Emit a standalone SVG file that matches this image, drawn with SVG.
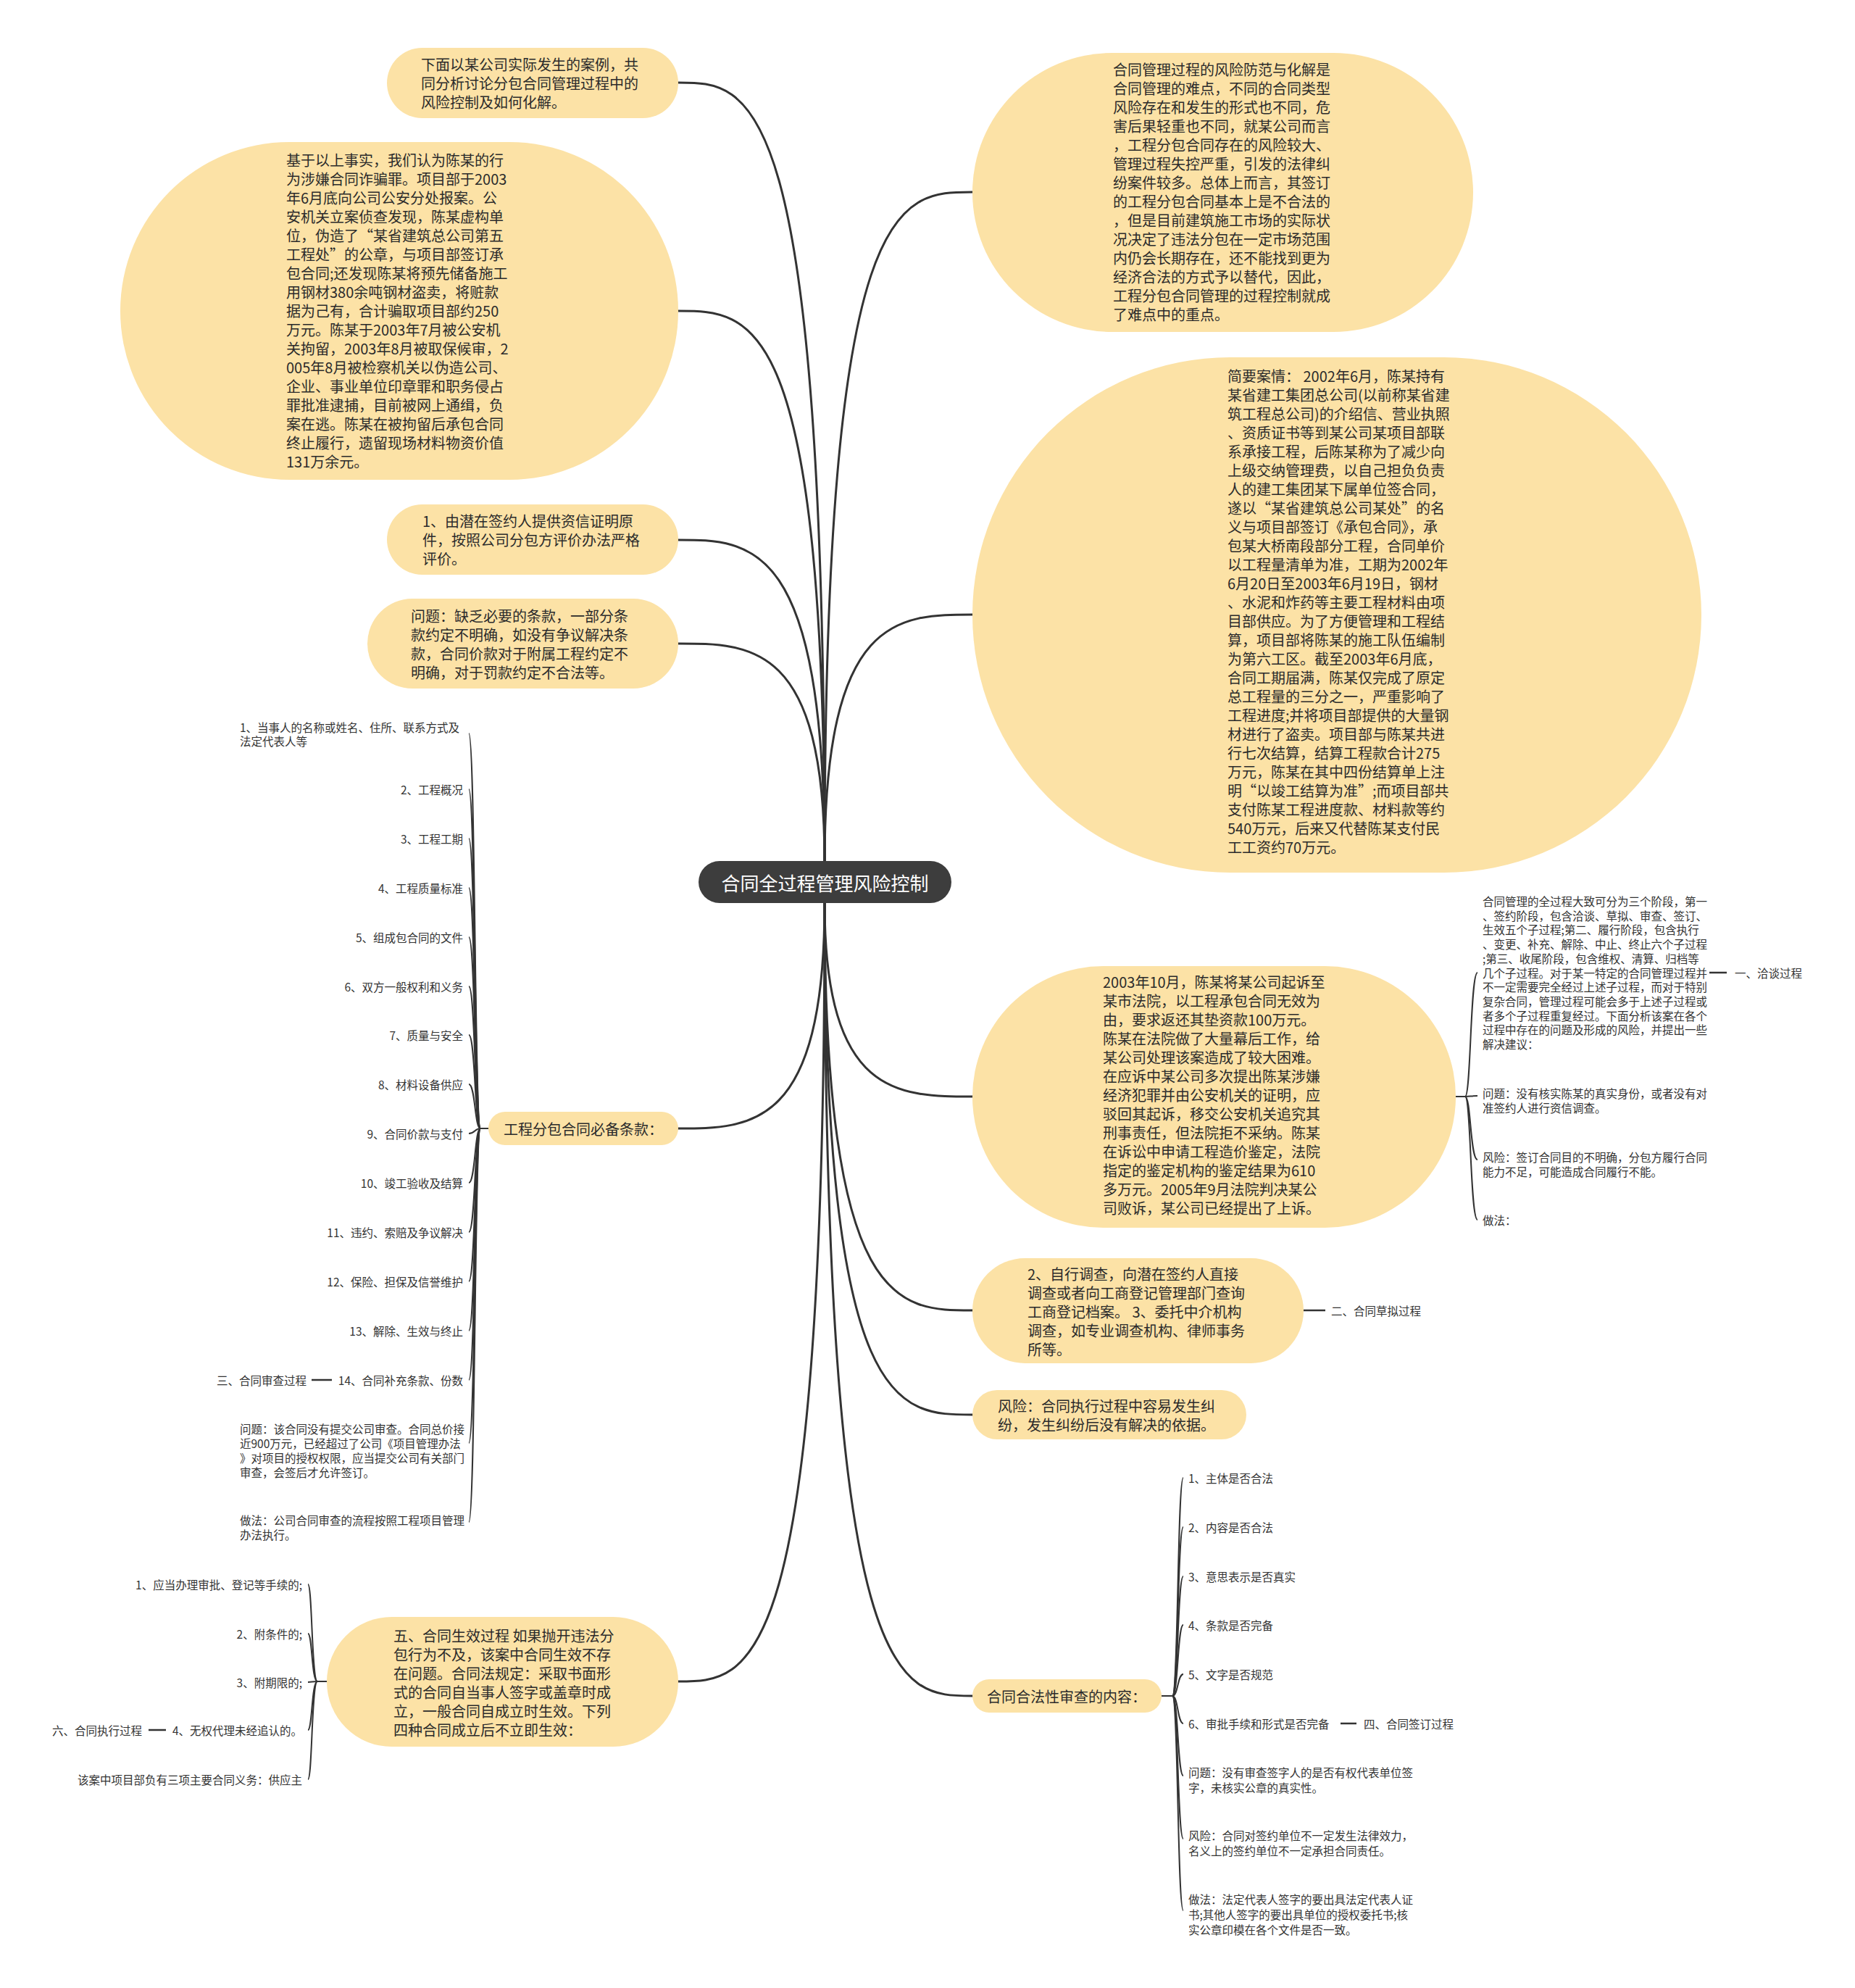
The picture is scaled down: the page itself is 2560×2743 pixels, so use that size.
<svg xmlns="http://www.w3.org/2000/svg" width="2560" height="2743" viewBox="0 0 2560 2743">
<style>
.n{fill:#FCE2A6}
.t{font-family:"Noto Sans CJK SC","Noto Sans",sans-serif;font-size:20px;fill:#2b2b2b;dominant-baseline:central}
.s{font-size:15.5px;fill:#333}
.e{text-anchor:end}
.c{fill:none;stroke:#333;stroke-width:3;stroke-linecap:round}
.b{fill:none;stroke:#333;stroke-width:2}
.d{fill:none;stroke:#333;stroke-width:2.5}
</style>
<rect width="2560" height="2743" fill="#ffffff"/>
<g id="connectors">
<path class="c" d="M1138,1190 C1138,114 1037,114 936,114"/>
<path class="c" d="M1138,1190 C1138,429 1037,429 936,429"/>
<path class="c" d="M1138,1190 C1138,745 1037,745 936,745"/>
<path class="c" d="M1138,1190 C1138,888 1037,888 936,888"/>
<path class="c" d="M1138,1190 C1138,265 1240,265 1342,265"/>
<path class="c" d="M1138,1190 C1138,848 1240,848 1342,848"/>
<path class="c" d="M1138,1246 C1138,1557 1037,1557 936,1557"/>
<path class="c" d="M1138,1246 C1138,2320 1037,2320 936,2320"/>
<path class="c" d="M1138,1246 C1138,1513 1240,1513 1342,1513"/>
<path class="c" d="M1138,1246 C1138,1808 1240,1808 1342,1808"/>
<path class="c" d="M1138,1246 C1138,1952 1240,1952 1342,1952"/>
<path class="c" d="M1138,1246 C1138,2340 1240,2340 1342,2340"/>
<path class="b" d="M674,1557 H663 C655,1557 656,1012 647,1012"/>
<path class="b" d="M674,1557 H663 C655,1557 656,1089 647,1089"/>
<path class="b" d="M674,1557 H663 C655,1557 656,1157 647,1157"/>
<path class="b" d="M674,1557 H663 C655,1557 656,1225 647,1225"/>
<path class="b" d="M674,1557 H663 C655,1557 656,1293 647,1293"/>
<path class="b" d="M674,1557 H663 C655,1557 656,1361 647,1361"/>
<path class="b" d="M674,1557 H663 C655,1557 656,1428 647,1428"/>
<path class="b" d="M674,1557 H663 C655,1557 656,1496 647,1496"/>
<path class="b" d="M674,1557 H663 C655,1557 656,1564 647,1564"/>
<path class="b" d="M674,1557 H663 C655,1557 656,1632 647,1632"/>
<path class="b" d="M674,1557 H663 C655,1557 656,1700 647,1700"/>
<path class="b" d="M674,1557 H663 C655,1557 656,1768 647,1768"/>
<path class="b" d="M674,1557 H663 C655,1557 656,1836 647,1836"/>
<path class="b" d="M674,1557 H663 C655,1557 656,1904 647,1904"/>
<path class="b" d="M674,1557 H663 C655,1557 656,1991 647,1991"/>
<path class="b" d="M674,1557 H663 C655,1557 656,2100 647,2100"/>
<path class="d" d="M430,1904 H458"/>
<path class="b" d="M2009,1513 H2022 C2030,1513 2029,1342 2039,1342"/>
<path class="b" d="M2009,1513 H2022 C2030,1513 2029,1512 2039,1512"/>
<path class="b" d="M2009,1513 H2022 C2030,1513 2029,1600 2039,1600"/>
<path class="b" d="M2009,1513 H2022 C2030,1513 2029,1683 2039,1683"/>
<path class="d" d="M2359,1342 H2383"/>
<path class="d" d="M1799,1808 H1829"/>
<path class="b" d="M1603,2340 H1618 C1626,2340 1625,2039 1633,2039"/>
<path class="b" d="M1603,2340 H1618 C1626,2340 1625,2107 1633,2107"/>
<path class="b" d="M1603,2340 H1618 C1626,2340 1625,2175 1633,2175"/>
<path class="b" d="M1603,2340 H1618 C1626,2340 1625,2242 1633,2242"/>
<path class="b" d="M1603,2340 H1618 C1626,2340 1625,2310 1633,2310"/>
<path class="b" d="M1603,2340 H1618 C1626,2340 1625,2378 1633,2378"/>
<path class="b" d="M1603,2340 H1618 C1626,2340 1625,2450 1633,2450"/>
<path class="b" d="M1603,2340 H1618 C1626,2340 1625,2537 1633,2537"/>
<path class="b" d="M1603,2340 H1618 C1626,2340 1625,2636 1633,2636"/>
<path class="d" d="M1850,2378 H1872"/>
<path class="b" d="M451,2320 H438 C430,2320 431,2186 425,2186"/>
<path class="b" d="M451,2320 H438 C430,2320 431,2254 425,2254"/>
<path class="b" d="M451,2320 H438 C430,2320 431,2321 425,2321"/>
<path class="b" d="M451,2320 H438 C430,2320 431,2387 425,2387"/>
<path class="b" d="M451,2320 H438 C430,2320 431,2455 425,2455"/>
<path class="d" d="M205,2387 H229"/>
</g>

<g id="center">
<rect x="964" y="1188" width="349" height="58" rx="29" fill="#3d3d3d"/>
<text class="t" x="1138.5" y="1217" text-anchor="middle" style="font-size:26px;fill:#ffffff">合同全过程管理风险控制</text>
</g>

<g id="nodeA">
<rect class="n" x="534" y="66" width="402" height="97" rx="48.5"/>
<text class="t"><tspan x="581" y="88">下面以某公司实际发生的案例，共</tspan><tspan x="581" y="114">同分析讨论分包合同管理过程中的</tspan><tspan x="581" y="140">风险控制及如何化解。</tspan></text>
</g>

<g id="nodeB">
<rect class="n" x="166" y="196" width="770" height="466" rx="233"/>
<text class="t"><tspan x="395" y="220">基于以上事实，我们认为陈某的行</tspan><tspan x="395" y="246">为涉嫌合同诈骗罪。项目部于2003</tspan><tspan x="395" y="272">年6月底向公司公安分处报案。公</tspan><tspan x="395" y="298">安机关立案侦查发现，陈某虚构单</tspan><tspan x="395" y="324">位，伪造了“某省建筑总公司第五</tspan><tspan x="395" y="350">工程处”的公章，与项目部签订承</tspan><tspan x="395" y="376">包合同;还发现陈某将预先储备施工</tspan><tspan x="395" y="402">用钢材380余吨钢材盗卖，将赃款</tspan><tspan x="395" y="428">据为己有，合计骗取项目部约250</tspan><tspan x="395" y="454">万元。陈某于2003年7月被公安机</tspan><tspan x="395" y="480">关拘留，2003年8月被取保候审，2</tspan><tspan x="395" y="506">005年8月被检察机关以伪造公司、</tspan><tspan x="395" y="532">企业、事业单位印章罪和职务侵占</tspan><tspan x="395" y="558">罪批准逮捕，目前被网上通缉，负</tspan><tspan x="395" y="584">案在逃。陈某在被拘留后承包合同</tspan><tspan x="395" y="610">终止履行，遗留现场材料物资价值</tspan><tspan x="395" y="636">131万余元。</tspan></text>
</g>

<g id="nodeC">
<rect class="n" x="534" y="696" width="402" height="97" rx="48.5"/>
<text class="t"><tspan x="583" y="718">1、由潜在签约人提供资信证明原</tspan><tspan x="583" y="744">件，按照公司分包方评价办法严格</tspan><tspan x="583" y="770">评价。</tspan></text>
</g>

<g id="nodeD">
<rect class="n" x="507" y="826" width="429" height="124" rx="62"/>
<text class="t"><tspan x="567" y="849">问题：缺乏必要的条款，一部分条</tspan><tspan x="567" y="875">款约定不明确，如没有争议解决条</tspan><tspan x="567" y="901">款，合同价款对于附属工程约定不</tspan><tspan x="567" y="927">明确，对于罚款约定不合法等。</tspan></text>
</g>

<g id="nodeE">
<rect class="n" x="674" y="1534" width="262" height="46" rx="23"/>
<text class="t" x="695" y="1557">工程分包合同必备条款：</text>
</g>

<g id="nodeE-children">
<text class="t s"><tspan x="331" y="1003">1、当事人的名称或姓名、住所、联系方式及</tspan><tspan x="331" y="1022">法定代表人等</tspan></text>
<text class="t s e" x="639" y="1089">2、工程概况</text>
<text class="t s e" x="639" y="1157">3、工程工期</text>
<text class="t s e" x="639" y="1225">4、工程质量标准</text>
<text class="t s e" x="639" y="1293">5、组成包合同的文件</text>
<text class="t s e" x="639" y="1361">6、双方一般权利和义务</text>
<text class="t s e" x="639" y="1428">7、质量与安全</text>
<text class="t s e" x="639" y="1496">8、材料设备供应</text>
<text class="t s e" x="639" y="1564">9、合同价款与支付</text>
<text class="t s e" x="639" y="1632">10、竣工验收及结算</text>
<text class="t s e" x="639" y="1700">11、违约、索赔及争议解决</text>
<text class="t s e" x="639" y="1768">12、保险、担保及信誉维护</text>
<text class="t s e" x="639" y="1836">13、解除、生效与终止</text>
<text class="t s e" x="639" y="1904">14、合同补充条款、份数</text>
<text class="t s e" x="423" y="1904">三、合同审查过程</text>
<text class="t s"><tspan x="331" y="1971">问题：该合同没有提交公司审查。合同总价接</tspan><tspan x="331" y="1991">近900万元，已经超过了公司《项目管理办法</tspan><tspan x="331" y="2011">》对项目的授权权限，应当提交公司有关部门</tspan><tspan x="331" y="2031">审查，会签后才允许签订。</tspan></text>
<text class="t s"><tspan x="331" y="2097">做法：公司合同审查的流程按照工程项目管理</tspan><tspan x="331" y="2117">办法执行。</tspan></text>
</g>

<g id="nodeF">
<rect class="n" x="1342" y="73" width="691" height="385" rx="192.5"/>
<text class="t"><tspan x="1536" y="94.5">合同管理过程的风险防范与化解是</tspan><tspan x="1536" y="120.5">合同管理的难点，不同的合同类型</tspan><tspan x="1536" y="146.5">风险存在和发生的形式也不同，危</tspan><tspan x="1536" y="172.5">害后果轻重也不同，就某公司而言</tspan><tspan x="1536" y="198.5">，工程分包合同存在的风险较大、</tspan><tspan x="1536" y="224.5">管理过程失控严重，引发的法律纠</tspan><tspan x="1536" y="250.5">纷案件较多。总体上而言，其签订</tspan><tspan x="1536" y="276.5">的工程分包合同基本上是不合法的</tspan><tspan x="1536" y="302.5">，但是目前建筑施工市场的实际状</tspan><tspan x="1536" y="328.5">况决定了违法分包在一定市场范围</tspan><tspan x="1536" y="354.5">内仍会长期存在，还不能找到更为</tspan><tspan x="1536" y="380.5">经济合法的方式予以替代，因此，</tspan><tspan x="1536" y="406.5">工程分包合同管理的过程控制就成</tspan><tspan x="1536" y="432.5">了难点中的重点。</tspan></text>
</g>

<g id="nodeG">
<rect class="n" x="1342" y="493" width="1006" height="711" rx="355.5"/>
<text class="t"><tspan x="1694" y="517.5">简要案情： 2002年6月，陈某持有</tspan><tspan x="1694" y="543.5">某省建工集团总公司(以前称某省建</tspan><tspan x="1694" y="569.5">筑工程总公司)的介绍信、营业执照</tspan><tspan x="1694" y="595.5">、资质证书等到某公司某项目部联</tspan><tspan x="1694" y="621.5">系承接工程，后陈某称为了减少向</tspan><tspan x="1694" y="647.5">上级交纳管理费，以自己担负负责</tspan><tspan x="1694" y="673.5">人的建工集团某下属单位签合同，</tspan><tspan x="1694" y="699.5">遂以“某省建筑总公司某处”的名</tspan><tspan x="1694" y="725.5">义与项目部签订《承包合同》，承</tspan><tspan x="1694" y="751.5">包某大桥南段部分工程，合同单价</tspan><tspan x="1694" y="777.5">以工程量清单为准，工期为2002年</tspan><tspan x="1694" y="803.5">6月20日至2003年6月19日，钢材</tspan><tspan x="1694" y="829.5">、水泥和炸药等主要工程材料由项</tspan><tspan x="1694" y="855.5">目部供应。为了方便管理和工程结</tspan><tspan x="1694" y="881.5">算，项目部将陈某的施工队伍编制</tspan><tspan x="1694" y="907.5">为第六工区。截至2003年6月底，</tspan><tspan x="1694" y="933.5">合同工期届满，陈某仅完成了原定</tspan><tspan x="1694" y="959.5">总工程量的三分之一，严重影响了</tspan><tspan x="1694" y="985.5">工程进度;并将项目部提供的大量钢</tspan><tspan x="1694" y="1011.5">材进行了盗卖。项目部与陈某共进</tspan><tspan x="1694" y="1037.5">行七次结算，结算工程款合计275</tspan><tspan x="1694" y="1063.5">万元，陈某在其中四份结算单上注</tspan><tspan x="1694" y="1089.5">明“以竣工结算为准”;而项目部共</tspan><tspan x="1694" y="1115.5">支付陈某工程进度款、材料款等约</tspan><tspan x="1694" y="1141.5">540万元，后来又代替陈某支付民</tspan><tspan x="1694" y="1167.5">工工资约70万元。</tspan></text>
</g>

<g id="nodeH">
<rect class="n" x="1342" y="1333" width="667" height="361" rx="180.5"/>
<text class="t"><tspan x="1522" y="1354">2003年10月，陈某将某公司起诉至</tspan><tspan x="1522" y="1380">某市法院，以工程承包合同无效为</tspan><tspan x="1522" y="1406">由，要求返还其垫资款100万元。</tspan><tspan x="1522" y="1432">陈某在法院做了大量幕后工作，给</tspan><tspan x="1522" y="1458">某公司处理该案造成了较大困难。</tspan><tspan x="1522" y="1484">在应诉中某公司多次提出陈某涉嫌</tspan><tspan x="1522" y="1510">经济犯罪并由公安机关的证明，应</tspan><tspan x="1522" y="1536">驳回其起诉，移交公安机关追究其</tspan><tspan x="1522" y="1562">刑事责任，但法院拒不采纳。陈某</tspan><tspan x="1522" y="1588">在诉讼中申请工程造价鉴定，法院</tspan><tspan x="1522" y="1614">指定的鉴定机构的鉴定结果为610</tspan><tspan x="1522" y="1640">多万元。2005年9月法院判决某公</tspan><tspan x="1522" y="1666">司败诉，某公司已经提出了上诉。</tspan></text>
</g>

<g id="nodeH-children">
<text class="t s"><tspan x="2046" y="1243">合同管理的全过程大致可分为三个阶段，第一</tspan><tspan x="2046" y="1262.7">、签约阶段，包含洽谈、草拟、审查、签订、</tspan><tspan x="2046" y="1282.4">生效五个子过程;第二、履行阶段，包含执行</tspan><tspan x="2046" y="1302.1">、变更、补充、解除、中止、终止六个子过程</tspan><tspan x="2046" y="1321.8">;第三、收尾阶段，包含维权、清算、归档等</tspan><tspan x="2046" y="1341.5">几个子过程。对于某一特定的合同管理过程并</tspan><tspan x="2046" y="1361.2">不一定需要完全经过上述子过程，而对于特别</tspan><tspan x="2046" y="1380.9">复杂合同，管理过程可能会多于上述子过程或</tspan><tspan x="2046" y="1400.6">者多个子过程重复经过。下面分析该案在各个</tspan><tspan x="2046" y="1420.3">过程中存在的问题及形成的风险，并提出一些</tspan><tspan x="2046" y="1440">解决建议：</tspan></text>
<text class="t s" x="2394" y="1342">一、洽谈过程</text>
<text class="t s"><tspan x="2046" y="1508">问题：没有核实陈某的真实身份，或者没有对</tspan><tspan x="2046" y="1528">准签约人进行资信调查。</tspan></text>
<text class="t s"><tspan x="2046" y="1596">风险：签订合同目的不明确，分包方履行合同</tspan><tspan x="2046" y="1616">能力不足，可能造成合同履行不能。</tspan></text>
<text class="t s" x="2046" y="1683">做法：</text>
</g>

<g id="nodeI">
<rect class="n" x="1342" y="1736" width="457" height="145" rx="72.5"/>
<text class="t"><tspan x="1418" y="1756.5">2、自行调查，向潜在签约人直接</tspan><tspan x="1418" y="1782.5">调查或者向工商登记管理部门查询</tspan><tspan x="1418" y="1808.5">工商登记档案。 3、委托中介机构</tspan><tspan x="1418" y="1834.5">调查，如专业调查机构、律师事务</tspan><tspan x="1418" y="1860.5">所等。</tspan></text>
<text class="t s" x="1837" y="1808">二、合同草拟过程</text>
</g>

<g id="nodeJ">
<rect class="n" x="1342" y="1918" width="378" height="68" rx="34"/>
<text class="t"><tspan x="1377" y="1939">风险：合同执行过程中容易发生纠</tspan><tspan x="1377" y="1965">纷，发生纠纷后没有解决的依据。</tspan></text>
</g>

<g id="nodeK">
<rect class="n" x="1342" y="2317" width="261" height="46" rx="23"/>
<text class="t" x="1362" y="2340">合同合法性审查的内容：</text>
</g>

<g id="nodeK-children">
<text class="t s" x="1640" y="2039">1、主体是否合法</text>
<text class="t s" x="1640" y="2107">2、内容是否合法</text>
<text class="t s" x="1640" y="2175">3、意思表示是否真实</text>
<text class="t s" x="1640" y="2242">4、条款是否完备</text>
<text class="t s" x="1640" y="2310">5、文字是否规范</text>
<text class="t s" x="1640" y="2378">6、审批手续和形式是否完备</text>
<text class="t s" x="1882" y="2378">四、合同签订过程</text>
<text class="t s"><tspan x="1640" y="2445">问题：没有审查签字人的是否有权代表单位签</tspan><tspan x="1640" y="2466">字，未核实公章的真实性。</tspan></text>
<text class="t s"><tspan x="1640" y="2532">风险：合同对签约单位不一定发生法律效力，</tspan><tspan x="1640" y="2553">名义上的签约单位不一定承担合同责任。</tspan></text>
<text class="t s"><tspan x="1640" y="2620">做法：法定代表人签字的要出具法定代表人证</tspan><tspan x="1640" y="2641">书;其他人签字的要出具单位的授权委托书;核</tspan><tspan x="1640" y="2662">实公章印模在各个文件是否一致。</tspan></text>
</g>

<g id="nodeL">
<rect class="n" x="451" y="2231" width="485" height="179" rx="89.5"/>
<text class="t"><tspan x="543" y="2255.5">五、合同生效过程 如果抛开违法分</tspan><tspan x="543" y="2281.5">包行为不及，该案中合同生效不存</tspan><tspan x="543" y="2307.5">在问题。合同法规定：采取书面形</tspan><tspan x="543" y="2333.5">式的合同自当事人签字或盖章时成</tspan><tspan x="543" y="2359.5">立，一般合同自成立时生效。下列</tspan><tspan x="543" y="2385.5">四种合同成立后不立即生效：</tspan></text>
</g>

<g id="nodeL-children">
<text class="t s e" x="417" y="2186">1、应当办理审批、登记等手续的;</text>
<text class="t s e" x="417" y="2254">2、附条件的;</text>
<text class="t s e" x="417" y="2321">3、附期限的;</text>
<text class="t s e" x="417" y="2387">4、无权代理未经追认的。</text>
<text class="t s e" x="196" y="2387">六、合同执行过程</text>
<text class="t s e" x="417" y="2455">该案中项目部负有三项主要合同义务：供应主</text>
</g>
</svg>
